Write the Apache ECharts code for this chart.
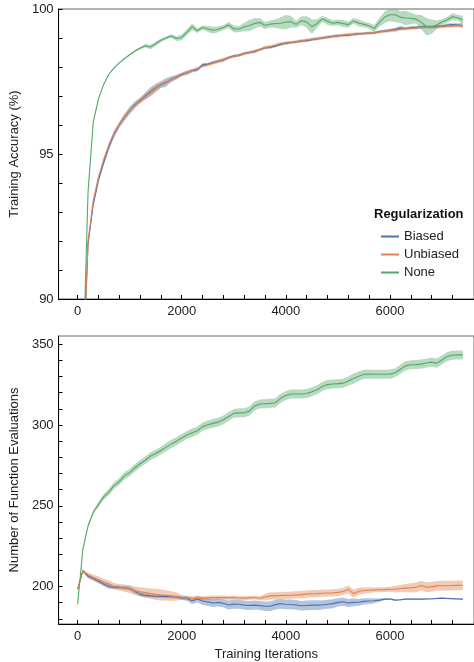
<!DOCTYPE html>
<html>
<head>
    <meta charset="utf-8">
    <title></title>
    <script type="text/javascript" src="https://cdn.jsdelivr.net/npm/echarts@6/dist/echarts.min.js"></script>
    <style>
        html, body { margin: 0; padding: 0; background: #fff; }
    </style>
</head>
<body>

<div id="main" style="width: 474px;height:662px;"></div>
<script type="text/javascript">
    // iterations (x values), one sample every 100 iterations
    var iters = [
        0, 100, 200, 300, 400, 500, 600, 700, 800, 900,
        1000, 1100, 1200, 1300, 1400, 1500, 1600, 1700, 1800, 1900,
        2000, 2100, 2200, 2300, 2400, 2500, 2600, 2700, 2800, 2900,
        3000, 3100, 3200, 3300, 3400, 3500, 3600, 3700, 3800, 3900,
        4000, 4100, 4200, 4300, 4400, 4500, 4600, 4700, 4800, 4900,
        5000, 5100, 5200, 5300, 5400, 5500, 5600, 5700, 5800, 5900,
        6000, 6100, 6200, 6300, 6400, 6500, 6600, 6700, 6800, 6900,
        7000, 7100, 7200, 7300, 7400
    ];

    // training accuracy (%)
    var accBiased = [
        null, 87.3, 91.9, 93.25, 94.1, 94.7, 95.25, 95.68, 96.0, 96.27,
        96.5, 96.7, 96.85, 97.0, 97.15, 97.28, 97.4, 97.47, 97.58, 97.65,
        97.75, 97.8, 97.87, 97.9, 98.08, 98.1, 98.15, 98.2, 98.24, 98.33,
        98.38, 98.4, 98.47, 98.5, 98.53, 98.6, 98.66, 98.68, 98.72, 98.78,
        98.82, 98.85, 98.86, 98.9, 98.91, 98.94, 98.97, 99.0, 99.03, 99.06,
        99.08, 99.09, 99.1, 99.13, 99.14, 99.15, 99.17, 99.17, 99.22, 99.24,
        99.27, 99.3, 99.35, 99.33, 99.36, 99.37, 99.38, 99.39, 99.38, 99.4,
        99.41, 99.45, 99.46, 99.45, 99.43
    ];
    var accBiasedErr = [
        0, 0.05, 0.06, 0.06, 0.08, 0.1, 0.12, 0.12, 0.1, 0.12,
        0.14, 0.12, 0.1, 0.12, 0.15, 0.14, 0.12, 0.15, 0.1, 0.08,
        0.06, 0.08, 0.06, 0.05, 0.06, 0.05, 0.05, 0.06, 0.05, 0.04,
        0.04, 0.05, 0.04, 0.04, 0.05, 0.04, 0.04, 0.05, 0.04, 0.04,
        0.05, 0.04, 0.04, 0.04, 0.05, 0.04, 0.04, 0.04, 0.05, 0.04,
        0.04, 0.04, 0.04, 0.05, 0.04, 0.04, 0.04, 0.04, 0.05, 0.04,
        0.05, 0.05, 0.06, 0.05, 0.04, 0.04, 0.05, 0.04, 0.04, 0.04,
        0.04, 0.05, 0.05, 0.06, 0.08
    ];
    var accUnbiased = [
        null, 87.2, 92.0, 93.4, 94.2, 94.8, 95.3, 95.72, 96.02, 96.28,
        96.5, 96.68, 96.83, 96.98, 97.12, 97.26, 97.38, 97.48, 97.56, 97.66,
        97.72, 97.8, 97.88, 97.95, 98.03, 98.08, 98.14, 98.2, 98.25, 98.31,
        98.37, 98.41, 98.46, 98.5, 98.55, 98.6, 98.67, 98.7, 98.75, 98.8,
        98.83, 98.84, 98.88, 98.9, 98.93, 98.96, 98.98, 99.0, 99.02, 99.05,
        99.07, 99.1, 99.12, 99.12, 99.15, 99.16, 99.17, 99.19, 99.21, 99.24,
        99.25, 99.27, 99.3, 99.32, 99.33, 99.34, 99.36, 99.37, 99.37, 99.38,
        99.39, 99.4, 99.41, 99.42, 99.42
    ];
    var accUnbiasedErr = [
        0, 0.04, 0.05, 0.05, 0.06, 0.07, 0.08, 0.07, 0.06, 0.07,
        0.08, 0.07, 0.08, 0.1, 0.12, 0.1, 0.08, 0.06, 0.07, 0.06,
        0.05, 0.06, 0.05, 0.06, 0.05, 0.05, 0.06, 0.05, 0.07, 0.05,
        0.05, 0.05, 0.06, 0.05, 0.05, 0.05, 0.06, 0.05, 0.05, 0.06,
        0.05, 0.05, 0.05, 0.06, 0.05, 0.05, 0.06, 0.05, 0.05, 0.05,
        0.06, 0.05, 0.06, 0.05, 0.05, 0.05, 0.05, 0.05, 0.05, 0.06,
        0.05, 0.06, 0.05, 0.05, 0.05, 0.05, 0.05, 0.05, 0.05, 0.05,
        0.05, 0.05, 0.05, 0.05, 0.05
    ];
    var accNone = [
        null, 87.5, 93.7, 96.1, 96.9, 97.4, 97.75, 97.97, 98.14, 98.29,
        98.42, 98.55, 98.65, 98.73, 98.69, 98.8, 98.92, 99.0, 99.07, 98.98,
        99.02, 99.2, 99.39, 99.25, 99.36, 99.31, 99.27, 99.3, 99.36, 99.45,
        99.31, 99.31, 99.38, 99.43, 99.5, 99.54, 99.43, 99.48, 99.5, 99.51,
        99.55, 99.56, 99.47, 99.6, 99.55, 99.39, 99.5, 99.66, 99.58, 99.51,
        99.54, 99.5, 99.46, 99.59, 99.52, 99.47, 99.42, 99.33, 99.55, 99.72,
        99.8, 99.8, 99.72, 99.69, 99.68, 99.65, 99.55, 99.39, 99.39, 99.45,
        99.55, 99.63, 99.73, 99.7, 99.62
    ];
    var accNoneErr = [
        0, 0.02, 0.03, 0.03, 0.02, 0.02, 0.02, 0.02, 0.02, 0.03,
        0.03, 0.03, 0.04, 0.06, 0.08, 0.07, 0.06, 0.05, 0.06, 0.08,
        0.1, 0.1, 0.12, 0.08, 0.07, 0.1, 0.12, 0.1, 0.08, 0.1,
        0.12, 0.1, 0.15, 0.2, 0.18, 0.14, 0.12, 0.12, 0.15, 0.2,
        0.25, 0.2, 0.12, 0.15, 0.2, 0.25, 0.15, 0.1, 0.12, 0.1,
        0.1, 0.12, 0.1, 0.1, 0.12, 0.1, 0.1, 0.12, 0.15, 0.2,
        0.22, 0.25, 0.2, 0.25, 0.2, 0.15, 0.25, 0.3, 0.25, 0.15,
        0.1, 0.1, 0.12, 0.1, 0.15
    ];

    // number of function evaluations
    var nfeBiased = [
        198.3, 209.8, 206.3, 205.0, 203.2, 201.5, 200.0, 199.6, 199.5, 199.2,
        198.8, 197.0, 195.3, 194.5, 194.2, 194.0, 193.9, 193.8, 193.7, 193.5,
        193.0, 192.6, 191.0, 192.3, 191.0, 190.5, 189.8, 190.2, 189.6, 188.6,
        189.1, 189.0, 188.5, 188.3, 188.5, 188.2, 187.8, 187.8, 188.8, 189.3,
        189.0, 188.9, 188.6, 188.1, 188.3, 188.5, 188.5, 188.6, 189.0, 189.4,
        190.2, 190.6, 189.8, 190.2, 190.3, 190.8, 191.0, 191.2, 191.6, 192.2,
        192.3, 191.6, 191.8, 192.2, 192.2, 192.2, 192.2, 192.3, 192.4, 192.6,
        192.8, 192.6, 192.5, 192.3, 192.2
    ];
    var nfeBiasedErr = [
        0, 0.8, 1.2, 1.2, 1.2, 1.3, 1.3, 1.2, 1.2, 1.2,
        1.3, 1.5, 1.5, 1.2, 1.0, 1.0, 1.0, 1.0, 1.0, 1.0,
        1.2, 1.5, 1.8, 2.2, 2.5, 2.5, 2.5, 2.5, 2.5, 2.8,
        2.8, 2.8, 2.8, 2.8, 2.8, 2.8, 3.0, 3.0, 3.0, 3.0,
        3.0, 3.0, 3.0, 3.0, 3.0, 3.0, 3.0, 2.8, 2.8, 2.8,
        2.6, 2.6, 2.5, 2.4, 2.2, 2.0, 1.8, 1.5, 1.0, 0.6,
        0.5, 0.5, 0.5, 0.4, 0.4, 0.4, 0.4, 0.4, 0.4, 0.4,
        0.4, 0.4, 0.4, 0.4, 0.4
    ];
    var nfeUnbiased = [
        198.3, 209.5, 207.2, 205.5, 204.3, 202.8, 201.5, 200.2, 199.5, 199.0,
        198.5, 197.3, 196.8, 196.2, 195.6, 195.2, 194.8, 194.5, 194.1, 193.8,
        193.3, 193.0, 192.8, 192.7, 192.6, 192.9, 193.2, 193.1, 193.2, 193.0,
        193.2, 192.9, 192.8, 193.0, 193.2, 192.7, 193.5, 194.2, 194.2, 194.4,
        194.5, 194.6, 194.8, 195.0, 195.3, 195.5, 195.6, 195.8, 196.0, 196.1,
        196.4, 196.9, 198.2, 195.6, 197.1, 197.5, 197.7, 197.9, 198.0, 198.1,
        198.3, 198.3, 198.8, 199.0, 199.2, 199.5, 200.6, 199.6, 199.8, 200.4,
        200.5, 200.5, 200.6, 200.7, 200.8
    ];
    var nfeUnbiasedErr = [
        0, 1.0, 1.5, 1.8, 2.0, 2.0, 2.2, 2.0, 2.0, 2.2,
        2.5, 2.5, 2.8, 3.0, 3.2, 3.5, 3.5, 3.2, 3.0, 2.5,
        1.5, 1.2, 1.2, 1.2, 1.2, 1.3, 1.2, 1.2, 1.2, 1.2,
        1.2, 1.3, 1.2, 1.2, 1.2, 1.2, 2.0, 2.2, 2.2, 2.2,
        2.2, 2.2, 2.2, 2.2, 2.2, 2.2, 2.2, 2.2, 2.2, 2.2,
        2.2, 2.2, 2.5, 2.5, 2.2, 2.0, 1.8, 1.5, 1.5, 1.5,
        1.5, 2.0, 2.2, 2.5, 2.8, 3.0, 3.0, 3.0, 3.0, 3.0,
        3.0, 3.0, 3.0, 3.0, 3.0
    ];
    var nfeNone = [
        189, 223, 237.5, 246, 250.8, 255.5, 258.5, 262.5, 265, 268.5,
        270.5, 273.5, 276, 278.2, 280.8, 282.3, 284.2, 286.3, 288.3, 290,
        292, 293.8, 295.2, 296.5, 299, 300.2, 301, 301.8, 303.2, 305.3,
        307.2, 307.5, 307.6, 308.6, 311.8, 313, 313.2, 313.4, 313.8, 316.5,
        318.3, 319.2, 319.2, 319.2, 319.5, 320.6, 321.8, 323.8, 325, 325.4,
        325.6, 325.9, 327.2, 328.8, 330.2, 331.4, 331.5, 331.4, 331.4, 331.4,
        331.5, 332.3, 334.5, 336.6, 337.3, 337.4, 337.7, 338.4, 338.9, 338.3,
        340.2, 342.4, 343.2, 343.4, 343.4
    ];
    var nfeNoneErr = [
        0, 0.8, 1, 1.2, 1.5, 1.8, 2, 2, 2.2, 2.2,
        2.2, 2.3, 2.3, 2.3, 2.4, 2.4, 2.4, 2.5, 2.5, 2.5,
        2.5, 2.5, 2.6, 2.6, 2.6, 2.6, 2.7, 2.7, 2.7, 2.7,
        2.7, 2.8, 2.8, 2.8, 2.8, 2.8, 2.8, 2.8, 2.8, 2.8,
        2.8, 2.8, 2.8, 2.8, 2.8, 2.8, 2.8, 2.8, 2.8, 2.8,
        2.8, 2.8, 2.9, 3.2, 2.9, 2.8, 2.8, 2.8, 2.8, 2.8,
        2.8, 2.8, 2.8, 2.8, 2.8, 2.8, 2.8, 2.8, 2.8, 2.8,
        2.8, 2.8, 2.8, 2.8, 2.8
    ];

    // ticks and labels
    var xTicks = [0, 400, 800, 1200, 1600, 2000, 2400, 2800, 3200, 3600, 4000, 4400, 4800, 5200, 5600, 6000, 6400, 6800, 7200];
    var xLabels = [0, 2000, 4000, 6000];
    var accTicks = [90, 91, 92, 93, 94, 95, 96, 97, 98, 99, 100];
    var accLabels = [90, 95, 100];
    var nfeTicks = [180, 190, 200, 210, 220, 230, 240, 250, 260, 270, 280, 290, 300, 310, 320, 330, 340, 350];
    var nfeLabels = [200, 250, 300, 350];

    var names = ['Biased', 'Unbiased', 'None'];
    var colors = ['#4c72b0', '#dd8452', '#55a868'];
    var font = '"Liberation Sans", Arial, Helvetica, sans-serif';

    var myChart = echarts.init(document.getElementById('main'));

    function pairs(vals) {
        return iters.map(function (x, i) { return [x, vals[i]]; });
    }

    // shaded band: polygon mean+err ... mean-err, mapped through the axes
    function band(gi, mean, err, color) {
        return {
            type: 'custom', xAxisIndex: gi, yAxisIndex: gi, silent: true, clip: true,
            data: [[iters[0], mean[mean.length - 1]]],
            renderItem: function (params, api) {
                var up = [], lo = [];
                for (var i = 0; i < iters.length; i++) {
                    if (mean[i] == null) continue;
                    up.push(api.coord([iters[i], mean[i] + err[i]]));
                    lo.push(api.coord([iters[i], mean[i] - err[i]]));
                }
                var cs = params.coordSys;
                return {
                    type: 'polygon',
                    shape: {points: up.concat(lo.reverse())},
                    style: {fill: color, opacity: 0.42},
                    clipPath: {type: 'rect', shape: {x: cs.x, y: cs.y, width: cs.width, height: cs.height}}
                };
            }
        };
    }

    function line(name, gi, mean, color) {
        return {
            name: name, type: 'line', xAxisIndex: gi, yAxisIndex: gi,
            data: pairs(mean), symbol: 'none',
            itemStyle: {color: color},
            lineStyle: {color: color, width: 1.1}
        };
    }

    function xAxis(gi, showName) {
        return {
            type: 'value', gridIndex: gi, min: -366, max: 7615,
            name: showName ? 'Training Iterations' : '',
            nameLocation: 'middle', nameGap: 24,
            nameTextStyle: {fontSize: 13, color: '#222', fontFamily: font},
            axisLine: {onZero: false, lineStyle: {color: '#000', width: 1}},
            axisTick: {inside: true, length: 4, customValues: xTicks, lineStyle: {color: '#000'}},
            axisLabel: {
                customValues: xLabels, fontSize: 13, color: '#222', margin: 6, fontFamily: font,
                formatter: function (v) { return String(v); }
            },
            splitLine: {show: false}
        };
    }

    function yAxis(gi, name, min, max, ticks, labels) {
        return {
            type: 'value', gridIndex: gi, min: min, max: max,
            name: name, nameLocation: 'middle', nameGap: 26,
            nameTextStyle: {fontSize: 13, color: '#222', fontFamily: font},
            axisLine: {show: true, onZero: false, lineStyle: {color: '#000', width: 1}},
            axisTick: {show: true, inside: true, length: 4, customValues: ticks, lineStyle: {color: '#000'}},
            axisLabel: {customValues: labels, fontSize: 13, color: '#222', margin: 5, fontFamily: font},
            splitLine: {show: false}
        };
    }

    var series = [
        band(0, accBiased, accBiasedErr, colors[0]),
        band(0, accUnbiased, accUnbiasedErr, colors[1]),
        band(0, accNone, accNoneErr, colors[2]),
        line(names[0], 0, accBiased, colors[0]),
        line(names[1], 0, accUnbiased, colors[1]),
        line(names[2], 0, accNone, colors[2]),
        band(1, nfeBiased, nfeBiasedErr, colors[0]),
        band(1, nfeUnbiased, nfeUnbiasedErr, colors[1]),
        band(1, nfeNone, nfeNoneErr, colors[2]),
        line(names[0], 1, nfeBiased, colors[0]),
        line(names[1], 1, nfeUnbiased, colors[1]),
        line(names[2], 1, nfeNone, colors[2])
    ];

    option = {
        animation: false,
        backgroundColor: '#fff',
        title: {
            text: 'Regularization', left: 374, top: 208, padding: 0,
            textStyle: {fontSize: 13, fontWeight: 'bold', color: '#111', fontFamily: font}
        },
        legend: {
            data: names, orient: 'vertical', left: 381, top: 230,
            padding: 0, itemGap: 5, itemWidth: 18, itemHeight: 2, icon: 'rect',
            textStyle: {fontSize: 13, color: '#222', fontFamily: font}
        },
        grid: [
            {left: 55, right: -2, top: 9, height: 290, show: true, borderColor: '#666', borderWidth: 1},
            {left: 55, right: -2, top: 336, height: 290, show: true, borderColor: '#666', borderWidth: 1}
        ],
        xAxis: [xAxis(0, false), xAxis(1, true)],
        yAxis: [
            yAxis(0, 'Training Accuracy (%)', 90, 100, accTicks, accLabels),
            yAxis(1, 'Number of Function Evaluations', 176.8, 355.1, nfeTicks, nfeLabels)
        ],
        series: series
    };

    myChart.setOption(option);
</script>

</body>
</html>
